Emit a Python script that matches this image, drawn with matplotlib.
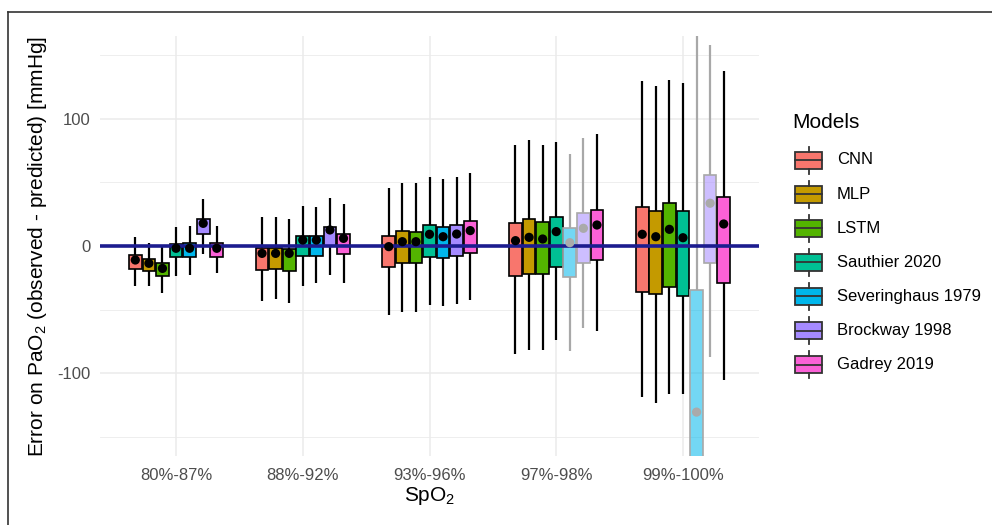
import numpy as np
import matplotlib

matplotlib.use("Agg")
import matplotlib.pyplot as plt
from matplotlib.patches import Rectangle

plt.rcParams["font.family"] = ["Liberation Sans", "DejaVu Sans"]
plt.rcParams["mathtext.fontset"] = "custom"
plt.rcParams["mathtext.rm"] = "Liberation Sans"
plt.rcParams["mathtext.it"] = "Liberation Sans:italic"
plt.rcParams["axes.unicode_minus"] = False

# Data (mmHg). One row per model, one column per SpO2 band.
GROUPS = ["80%-87%", "88%-92%", "93%-96%", "97%-98%", "99%-100%"]
MODELS = ["CNN", "MLP", "LSTM", "Sauthier 2020", "Severinghaus 1979",
          "Brockway 1998", "Gadrey 2019"]
COLORS = ["#F8766D", "#C49A00", "#53B400", "#00C094", "#00B6EB", "#A58AFF", "#FB61D7"]

whisk_lo = [
    [-31.5, -43.3, -54.3, -84.5, -119.0],
    [-31.5, -42.0, -51.7, -81.9, -123.0],
    [-36.7, -44.6, -51.7, -81.9, -116.5],
    [-23.4, -31.2, -46.5, -74.0, -116.5],
    [-22.8, -29.4, -47.2, -82.4, -400.0],
    [-6.3, -22.8, -45.7, -64.8, -87.2],
    [-21.5, -29.4, -42.5, -66.9, -105.5],
]
q1 = [
    [-18.3, -18.9, -16.8, -23.6, -36.5],
    [-19.4, -18.1, -13.6, -22.0, -38.0],
    [-23.4, -19.4, -13.6, -22.0, -32.0],
    [-8.9, -7.6, -8.4, -16.3, -39.4],
    [-8.4, -7.6, -9.7, -24.6, -230.0],
    [9.4, 0.0, -7.9, -13.6, -13.1],
    [-8.4, -6.3, -5.3, -11.0, -28.9],
]
q3 = [
    [-7.1, -1.8, 7.9, 17.8, 30.5],
    [-10.2, -1.8, 12.1, 21.0, 27.6],
    [-13.6, -2.4, 11.3, 18.6, 33.6],
    [1.6, 7.9, 16.5, 23.0, 27.8],
    [2.1, 7.9, 14.7, 13.9, -34.6],
    [21.0, 15.2, 16.5, 25.7, 55.9],
    [2.1, 9.4, 19.9, 28.3, 38.3],
]
whisk_hi = [
    [7.3, 23.0, 45.4, 79.5, 129.4],
    [2.1, 22.6, 49.4, 83.5, 126.0],
    [-1.0, 21.0, 49.4, 79.0, 130.7],
    [15.2, 31.5, 54.6, 82.1, 128.1],
    [15.7, 30.5, 52.5, 72.2, 170.0],
    [37.0, 37.5, 54.6, 84.8, 158.3],
    [15.7, 33.0, 57.7, 87.9, 137.2],
]
means = [
    [-11.0, -5.8, -0.5, 4.2, 9.2],
    [-13.6, -5.8, 3.4, 6.8, 7.3],
    [-17.6, -5.8, 3.4, 5.5, 13.1],
    [-1.8, 4.7, 9.2, 11.3, 6.5],
    [-1.8, 4.7, 7.3, 2.6, -130.5],
    [17.8, 12.6, 9.4, 13.9, 33.6],
    [-1.8, 6.0, 12.1, 16.5, 17.3],
]
# (model, band) pairs drawn greyed out
faded = {("Severinghaus 1979", "97%-98%"), ("Severinghaus 1979", "99%-100%"),
         ("Brockway 1998", "97%-98%"), ("Brockway 1998", "99%-100%")}

W, H = 992, 525
GRID = "#EBEBEB"
TICK = "#4D4D4D"
DODGE = 0.75 / len(MODELS)
BOX_W = 0.1

fig = plt.figure(figsize=(W / 100, H / 100), dpi=100)
fig.patch.set_facecolor("white")
ax = fig.add_axes([100 / W, (H - 456) / H, (759 - 100) / W, (456 - 36) / H])
ax.set_xlim(-0.6, len(GROUPS) - 0.4)
ax.set_ylim(-165, 165)

ax.set_yticks([-100, 0, 100])
ax.set_yticks([-150, -50, 50, 150], minor=True)
ax.set_xticks(range(len(GROUPS)), GROUPS)
ax.grid(True, which="major", color=GRID, lw=1.1, zorder=0)
ax.grid(True, which="minor", axis="y", color=GRID, lw=0.6, zorder=0)
ax.set_axisbelow(True)
for s in ax.spines.values():
    s.set_visible(False)
ax.tick_params(which="both", length=0, labelsize=12, labelcolor=TICK)
ax.tick_params(axis="y", pad=7)
ax.tick_params(axis="x", pad=9)

xbase = np.arange(len(GROUPS))
for m, name in enumerate(MODELS):
    xs = xbase + (m - 3) * DODGE
    is_faded = [(name, g) in faded for g in GROUPS]
    lo, a, b, hi, mu = (np.array(v[m]) for v in (whisk_lo, q1, q3, whisk_hi, means))
    fills = [(COLORS[m], 0.55) if f else COLORS[m] for f in is_faded]
    edges = ["#A8A8A8" if f else "black" for f in is_faded]
    ax.vlines(xs, lo, a, colors=edges, lw=1.6, zorder=2)
    ax.vlines(xs, b, hi, colors=edges, lw=1.6, zorder=2)
    ax.bar(xs, b - a, bottom=a, width=BOX_W, color=fills, edgecolor=edges,
           linewidth=1.2, zorder=3)
    dots = ["#AAAAAA" if f else "black" for f in is_faded]
    ax.scatter(xs, mu, s=44, c=dots, zorder=6, linewidths=0)

ax.axhline(0, color="#1C1C8F", lw=2.6, zorder=5)

fig.text(38 / W, 1 - 246 / H,
         r"Error on PaO$_{\mathrm{2}}$ (observed - predicted) [mmHg]",
         rotation=90, ha="center", va="center", fontsize=15)
fig.text(429.5 / W, 1 - 496 / H, r"SpO$_{\mathrm{2}}$", ha="center", va="center",
         fontsize=15)

# Legend and frame drawn on a pixel-space overlay.
lax = fig.add_axes([0, 0, 1, 1])
lax.set_xlim(0, W)
lax.set_ylim(H, 0)
lax.axis("off")

lax.text(792, 123, "Models", ha="left", va="center", fontsize=15)
for i, (name, col) in enumerate(zip(MODELS, COLORS)):
    cy = 160 + 34.1 * i
    lax.add_patch(Rectangle((795, cy - 8.5), 27, 17, facecolor=col,
                            edgecolor="#333333", lw=1.3))
    lax.plot([795, 822], [cy, cy], color="#333333", lw=1.3)
    lax.plot([808.5, 808.5], [cy - 13.5, cy - 8.5], color="#333333", lw=1.3)
    lax.plot([808.5, 808.5], [cy + 8.5, cy + 13.5], color="#333333", lw=1.3)
    lax.text(837, cy, name, ha="left", va="center", fontsize=12)

lax.plot([8, 8], [12, H], color="#333333", lw=1.2)
lax.plot([8, W], [12, 12], color="#333333", lw=1.2)

fig.savefig("out.png", dpi=100)
